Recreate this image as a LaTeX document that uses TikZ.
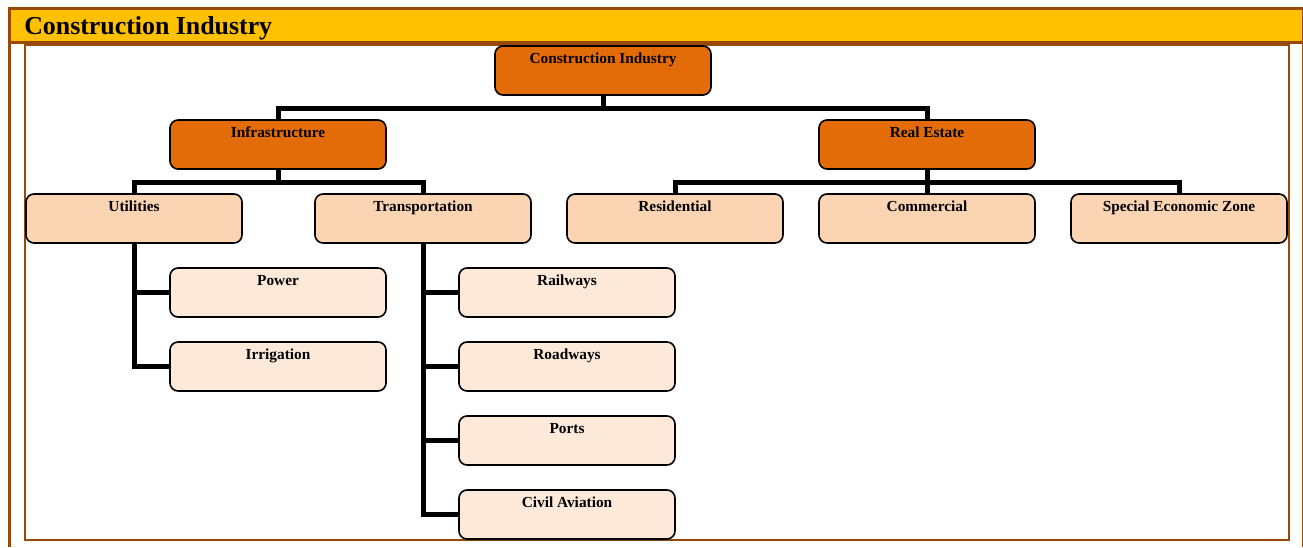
\documentclass[tikz,border=0pt]{standalone}
\usepackage{fontspec}
\setmainfont{Liberation Serif}
\definecolor{frameBrown}{HTML}{984807}
\definecolor{headYellow}{HTML}{FFC000}
\definecolor{darkOrange}{HTML}{E36C09}
\definecolor{midPeach}{HTML}{FBD4B4}
\definecolor{lightPeach}{HTML}{FDE9D9}
\begin{document}
\begin{tikzpicture}[x=0.75pt,y=-0.75pt,
  box/.style={draw=black,line width=1.2pt,rounded corners=6pt,
    minimum width=162pt,inner xsep=0pt,inner ysep=0pt,
    text height=12.75pt,text depth=24pt,
    font=\fontsize{11.5}{13}\selectfont\bfseries},
  topbox/.style={box,fill=darkOrange},
  midbox/.style={box,fill=midPeach},
  leafbox/.style={box,fill=lightPeach},
  conn/.style={line width=3.75pt,black}]

\useasboundingbox (0,0) rectangle (1303,547);

% Cadre
\fill[headYellow]
(9,8.5)
rectangle
(1302,42);

\draw[frameBrown,line width=2.25pt]
(8,8.5)
--
(1303,8.5);

\draw[frameBrown,line width=2.25pt]
(9,42)
--
(1303,42);

\draw[frameBrown,line width=2.25pt]
(9.5,7)
--
(9.5,547);

\draw[frameBrown,line width=1pt]
(1302.3,7)
--
(1302.3,547);

\draw[frameBrown,line width=1.5pt]
(25,45)
rectangle
(1289,540);

\node[anchor=base west,inner sep=0pt,
  font=\fontsize{19.4}{22}\selectfont\bfseries] (title) at (24,34)
{Construction Industry};

% Niveau 1 et 2
\node[topbox] (root) at (603,70.5) {Construction Industry};
\node[topbox] (infra) at (278,144.5) {Infrastructure};
\node[topbox] (estate) at (927,144.5) {Real Estate};

% Niveau 3
\node[midbox] (util) at (134,218.5) {Utilities};
\node[midbox] (trans) at (423,218.5) {Transportation};
\node[midbox] (resi) at (675,218.5) {Residential};
\node[midbox] (comm) at (927,218.5) {Commercial};
\node[midbox] (sez) at (1179,218.5) {Special Economic Zone};

% Niveau 4
\node[leafbox] (power) at (278,292.5) {Power};
\node[leafbox] (irrig) at (278,366.5) {Irrigation};
\node[leafbox] (rail) at (567,292.5) {Railways};
\node[leafbox] (road) at (567,366.5) {Roadways};
\node[leafbox] (ports) at (567,440.5) {Ports};
\node[leafbox] (aviation) at (567,514.5) {Civil Aviation};

% Liaisons
\draw[conn] (root.south) -- ++(0,12.5) -| (infra.north);
\draw[conn] (root.south) -- ++(0,12.5) -| (estate.north);

\draw[conn] (infra.south) -- ++(0,12.5) -| (util.north);
\draw[conn] (infra.south) -- ++(0,12.5) -| (trans.north);

\draw[conn] (estate.south) -- ++(0,12.5) -| (resi.north);
\draw[conn] (estate.south) -- ++(0,12.5) -| (comm.north);
\draw[conn] (estate.south) -- ++(0,12.5) -| (sez.north);

\draw[conn] (util.south) |- (power.west);
\draw[conn] (util.south) |- (irrig.west);

\draw[conn] (trans.south) |- (rail.west);
\draw[conn] (trans.south) |- (road.west);
\draw[conn] (trans.south) |- (ports.west);
\draw[conn] (trans.south) |- (aviation.west);

\end{tikzpicture}
\end{document}
